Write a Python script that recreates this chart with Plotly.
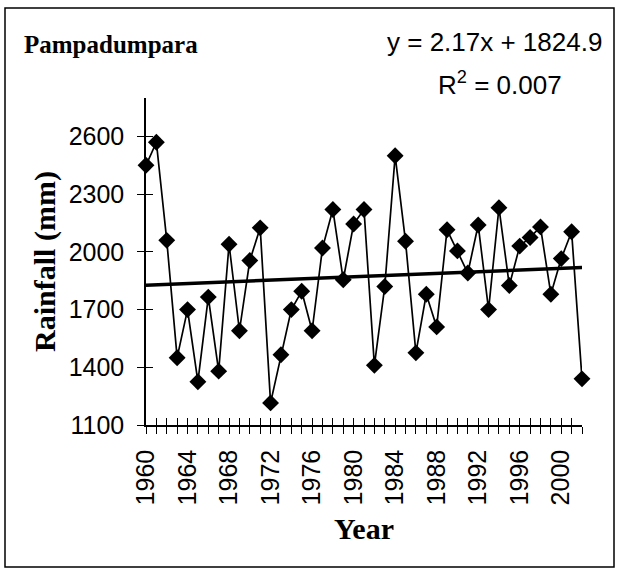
import plotly.graph_objects as go

# rainfall, one value per year 1960-2002
years = list(range(1960, 2003))
rainfall = [
    2450, 2570, 2060, 1450, 1700, 1325, 1765, 1380, 2040, 1590,
    1955, 2125, 1215, 1465, 1700, 1795, 1590, 2020, 2220, 1855,
    2145, 2220, 1410, 1820, 2500, 2055, 1475, 1780, 1610, 2115,
    2005, 1890, 2140, 1700, 2230, 1825, 2030, 2075, 2130, 1780,
    1965, 2105, 1340,
]

# linear trend as printed on the chart (x = 1..n)
trend_slope = 2.17
trend_intercept = 1824.9

y_ticks = [1100, 1400, 1700, 2000, 2300, 2600]
label_step = 4

W, H = 617, 569
L, R, T, B = 146, 35, 98, 144
PW, PH = W - L - R, H - T - B


def px(x):
    return (x - L) / PW


def py(y):
    return (H - B - y) / PH


trend_x = [years[0], years[-1]]
trend_y = [trend_intercept + trend_slope * 1,
           trend_intercept + trend_slope * len(years)]

fig = go.Figure()

fig.add_trace(go.Scatter(
    x=trend_x, y=trend_y, mode="lines",
    line=dict(color="black", width=3.5),
    xaxis="x2", yaxis="y2", hoverinfo="skip",
))

fig.add_trace(go.Scatter(
    x=years, y=rainfall, mode="lines+markers",
    line=dict(color="black", width=1.7),
    marker=dict(symbol="diamond", size=13, color="black"),
    cliponaxis=False,
))

tick_font = dict(family="Liberation Sans, Arial", size=25, color="black")
title_font = dict(family="Liberation Serif, Times New Roman", size=30,
                  color="black")
tick_style = dict(ticklen=7, tickwidth=1.2, tickcolor="black")

fig.update_layout(
    width=W, height=H,
    margin=dict(l=L, r=R, t=T, b=B),
    paper_bgcolor="white", plot_bgcolor="white",
    showlegend=False,
    xaxis=dict(
        range=[years[0], years[-1]],
        tickmode="linear", tick0=years[0], dtick=label_step, tickangle=-90,
        ticks="outside", **tick_style, ticklabelstandoff=6,
        minor=dict(tickmode="linear", tick0=years[0], dtick=1,
                   ticks="outside", **tick_style),
        showline=True, linecolor="black", linewidth=1.5,
        showgrid=False, zeroline=False,
        tickfont=tick_font,
        title=dict(text="<b>Year</b>", font=title_font, standoff=14),
    ),
    yaxis=dict(
        range=[1100, 2800],
        tickvals=y_ticks,
        ticks="outside", **tick_style, ticklabelstandoff=8,
        showline=True, linecolor="black", linewidth=1.5,
        showgrid=False, zeroline=False,
        tickfont=tick_font,
        title=dict(text="<b>Rainfall (mm)</b>", font=title_font, standoff=4),
    ),
    xaxis2=dict(
        overlaying="x", matches="x", anchor="y2",
        tickmode="linear", tick0=years[0], dtick=1, showticklabels=False,
        ticks="inside", **tick_style,
        showline=False, showgrid=False, zeroline=False,
    ),
    yaxis2=dict(
        overlaying="y", matches="y", anchor="x2",
        tickvals=y_ticks, showticklabels=False,
        ticks="inside", **tick_style,
        showline=False, showgrid=False, zeroline=False,
    ),
)

fig.add_annotation(
    text="<b>Pampadumpara</b>", xref="paper", yref="paper",
    x=px(22), y=py(44), xanchor="left", yanchor="middle", showarrow=False,
    font=dict(family="Liberation Serif, Times New Roman", size=25,
              color="black"),
)
fig.add_annotation(
    text="y = 2.17x + 1824.9", xref="paper", yref="paper",
    x=px(604), y=py(42), xanchor="right", yanchor="middle", showarrow=False,
    font=dict(family="Liberation Sans, Arial", size=26, color="black"),
)
fig.add_annotation(
    text="R<sup>2</sup> = 0.007", xref="paper", yref="paper",
    x=px(500), y=py(84), xanchor="center", yanchor="middle", showarrow=False,
    font=dict(family="Liberation Sans, Arial", size=26, color="black"),
)

# outer frame of the chart
fig.add_shape(
    type="rect", xref="paper", yref="paper",
    x0=px(5), x1=px(614), y0=py(567), y1=py(8),
    line=dict(color="black", width=1.5),
)

fig.write_html("out.html", config={"displayModeBar": False},
               post_script="document.body.style.margin='0px';")
